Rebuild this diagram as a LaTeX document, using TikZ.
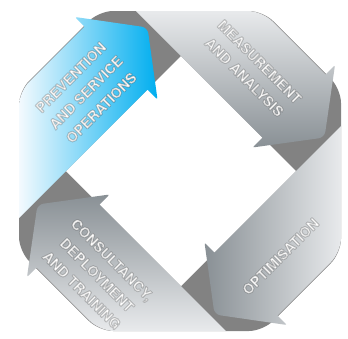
\documentclass[tikz,border=0pt]{standalone}
\usepackage{fontspec}
\newfontfamily\heros{TeX Gyre Heros}
\definecolor{capgray}{HTML}{828282}
\definecolor{bluelight}{HTML}{F4FAFE}
\definecolor{bluedark}{HTML}{00AEEF}
\definecolor{graylight}{HTML}{E8EAEC}
\definecolor{graydark}{HTML}{899095}
\newcommand\haloon{\special{pdf:literal direct 1 j 2 Tr 1.1 w 0.15 G}}
\newcommand\halooff{\special{pdf:literal direct 0 Tr}}
\tikzset{
  lbl/.style={text=white, draw opacity=0.25, font=\heros\bfseries\fontsize{14.2}{21.5}\selectfont, align=center, inner sep=0pt},
}
\begin{document}
\begin{tikzpicture}[x=1pt,y=-1pt]
\useasboundingbox (0,0) rectangle (348,338);
\fill[white] (0,0) rectangle (348,338);
% dark base ring
\fill[capgray, rounded corners=14pt] (99,11) -- (263,11) -- (341,89) -- (341,253) -- (263,331) -- (99,331) -- (19,251) -- (19,91) -- cycle;
\fill[white] (181,56) -- (296,171) -- (181,286) -- (66,171) -- cycle;
% prevention (blue)
\shade[left color=bluelight, right color=bluedark] (84.5,26.5) [rounded corners=14pt] -- (19,92) [sharp corners] -- (19,218) -- (147.5,89.5) [rounded corners=2pt] -- (157.5,99.5) [rounded corners=6pt] -- (147.5,27.5) [rounded corners=2pt] -- (75,17) [sharp corners] -- cycle;
% measurement
\shade[top color=graylight, bottom color=graydark] (325.5,74.5) [rounded corners=14pt] -- (262,11) [sharp corners] -- (136,11) -- (262.5,137.5) [rounded corners=2pt] -- (252.5,147.5) [rounded corners=6pt] -- (324.5,137.5) [rounded corners=2pt] -- (335,65) [sharp corners] -- cycle;
% optimisation
\shade[right color=graylight, left color=graydark] (277.5,315.5) [rounded corners=14pt] -- (341,252) [sharp corners] -- (341,126) -- (214.5,252.5) [rounded corners=2pt] -- (204.5,242.5) [rounded corners=6pt] -- (214.5,314.5) [rounded corners=2pt] -- (287,325) [sharp corners] -- cycle;
% consultancy
\shade[bottom color=graylight, top color=graydark] (36.5,267.5) [rounded corners=14pt] -- (100,331) [sharp corners] -- (226,331) -- (99.5,204.5) [rounded corners=2pt] -- (109.5,194.5) [rounded corners=6pt] -- (37.5,204.5) [rounded corners=2pt] -- (27,277) [sharp corners] -- cycle;
% labels
\node[lbl, rotate=45] (prev) at (86,92.5) {\haloon PREVENTION\\\haloon AND SERVICE\\\haloon OPERATIONS\halooff};
\node[lbl, rotate=-45] (meas) at (252,69.5) {\haloon MEASUREMENT\\\haloon AND ANALYSIS\halooff};
\node[lbl, rotate=45] (opti) at (280.5,256.5) {\haloon OPTIMISATION\halooff};
\node[lbl, rotate=-45] (cons) at (97,275) {\haloon CONSULTANCY,\\\haloon DEPLOYMENT\\\haloon AND TRAINING\halooff};
\end{tikzpicture}
\end{document}
